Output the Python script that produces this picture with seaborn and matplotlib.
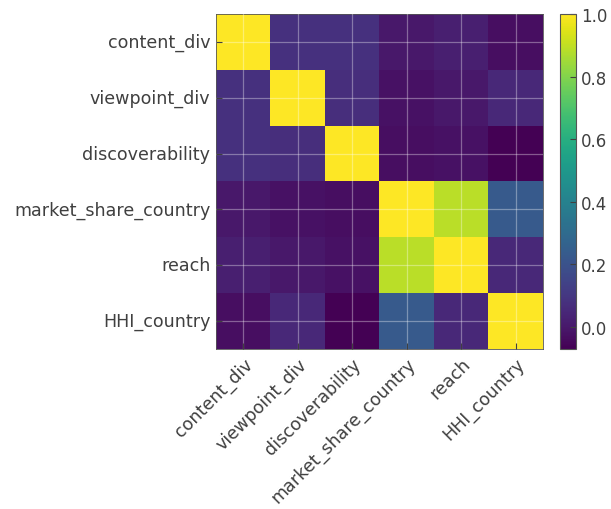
import numpy as np
import pandas as pd
import matplotlib
matplotlib.use("Agg")
import matplotlib.pyplot as plt
import seaborn as sns

# Variables in the correlation matrix
variables = ["content_div", "viewpoint_div", "discoverability",
             "market_share_country", "reach", "HHI_country"]

# Pairwise correlations (rows in the same order as the variables)
row_content_div = [1.00, 0.08, 0.08, 0.00, 0.02, -0.03]
row_viewpoint_div = [0.08, 1.00, 0.07, -0.02, 0.00, 0.05]
row_discoverability = [0.08, 0.07, 1.00, -0.03, -0.02, -0.07]
row_market_share = [0.00, -0.02, -0.03, 1.00, 0.89, 0.23]
row_reach = [0.02, 0.00, -0.02, 0.89, 1.00, 0.05]
row_hhi = [-0.03, 0.05, -0.07, 0.23, 0.05, 1.00]

cbar_ticks = [0.0, 0.2, 0.4, 0.6, 0.8, 1.0]

corr = pd.DataFrame(
    [row_content_div, row_viewpoint_div, row_discoverability,
     row_market_share, row_reach, row_hhi],
    index=variables, columns=variables,
)

text_color = "#404040"
plt.rcParams.update({
    "font.family": ["DejaVu Sans"],
    "xtick.direction": "in",
    "ytick.direction": "in",
    "xtick.color": text_color,
    "ytick.color": text_color,
    "xtick.labelcolor": text_color,
    "ytick.labelcolor": text_color,
})

fig = plt.figure(figsize=(6.11, 5.10), dpi=100)
ax = fig.add_axes([0.3535, 0.3137, 0.535, 0.657])
cax = fig.add_axes([0.9165, 0.3137, 0.026, 0.657])

sns.heatmap(corr, ax=ax, cbar_ax=cax, cmap="viridis",
            vmin=corr.values.min(), vmax=1.0, square=False,
            cbar_kws={"ticks": cbar_ticks})

# light grid through the cell centres, drawn on top of the cells
ax.set_axisbelow(False)
ax.grid(True, color="white", alpha=0.35, linewidth=0.9, zorder=3)
for gl in ax.get_xgridlines() + ax.get_ygridlines():
    gl.set_zorder(3)
for side, spine in ax.spines.items():
    spine.set_visible(True)
    spine.set_color("#555555")
    spine.set_linewidth(0.6)

ax.tick_params(axis="both", length=4, width=0.8, labelsize=12.6, pad=4)
ax.set_xticklabels(variables, rotation=45, ha="right", rotation_mode="anchor")
ax.set_yticklabels(variables, rotation=0)
ax.set_xlabel("")
ax.set_ylabel("")

cbar = ax.collections[0].colorbar
cbar.outline.set_visible(True)
cbar.outline.set_edgecolor("#555555")
cbar.outline.set_linewidth(0.8)
cax.tick_params(direction="in", length=4, width=0.8, labelsize=12,
                colors=text_color)
cax.set_yticklabels([f"{t:.1f}" for t in cbar_ticks])

fig.savefig("out.png", dpi=100)
